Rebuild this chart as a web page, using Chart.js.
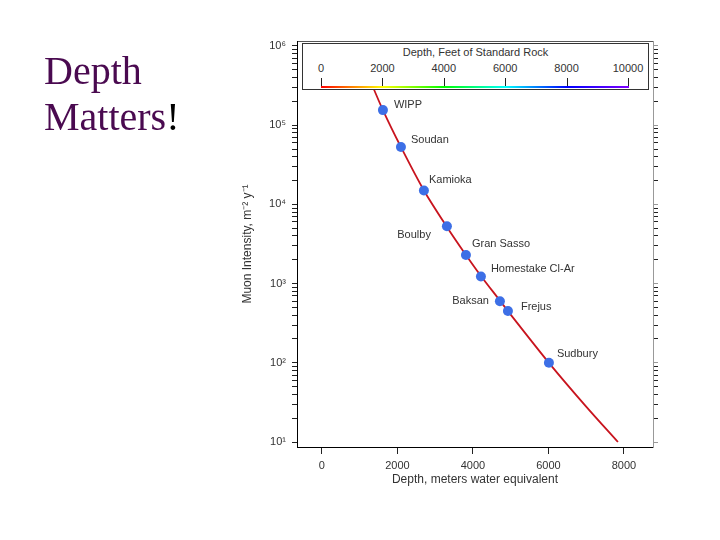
<!DOCTYPE html>
<html>
<head>
<meta charset="utf-8">
<script src="https://cdn.jsdelivr.net/npm/chart.js@4.4.0/dist/chart.umd.min.js"></script>
<style>
body { margin: 0; background: #fff; }
#wrap { position: relative; width: 720px; height: 540px; }
#headline { position: absolute; left: 44px; top: 48px; font: 40px/46px "Liberation Serif", "Times New Roman", serif; color: #4a0a50; }
#headline span { color: #000; }
#key { position: absolute; left: 302px; top: 43px; width: 345px; height: 45px; border: 1px solid #333;
       background: #fff; font: 11px/13px "Liberation Sans", Arial, sans-serif; color: #333; }
#key .ttl { position: absolute; left: 0; top: 2px; width: 100%; text-align: center; }
#key .lbl { position: absolute; top: 18px; transform: translateX(-50%); color: #333; }
#key .tk { position: absolute; top: 34px; width: 1px; height: 8px; background: #222; }
#key .bar { position: absolute; left: 18px; width: 308px; top: 42px; height: 2px;
            background: linear-gradient(to right, #f00 0%, #ff8000 10%, #ff0 20%, #0f0 40%, #0ff 60%, #00f 80%, #8000ff 100%); }
</style>
</head>
<body>
<div id="wrap">
  <canvas id="myChart" width="720" height="540"></canvas>
  <div id="headline">Depth<br>Matters<span>!</span></div>
  <div id="key"><div class="ttl">Depth, Feet of Standard Rock</div><div class="bar"></div></div>
</div>
<script>
// underground labs: depth (m w.e.) and muon intensity (m^-2 y^-1)
var stations = ['WIPP', 'Soudan', 'Kamioka', 'Boulby', 'Gran Sasso', 'Homestake Cl-Ar', 'Baksan', 'Frejus', 'Sudbury'];
var depthMwe = [1616, 2093, 2702, 3311, 3815, 4212, 4715, 4927, 6013];
var intensity = [1.55e5, 5.3e4, 1.5e4, 5.3e3, 2.3e3, 1.23e3, 600, 450, 100];

// red curve
var fitDepth = [1200, 1616, 2093, 2702, 3311, 3815, 4212, 4715, 4927, 6013, 7000, 7841];
var fitIntensity = [4.5e5, 1.55e5, 5.3e4, 1.5e4, 5.2e3, 2.3e3, 1.25e3, 610, 450, 100, 28, 10];

var depthTicks = [0, 2000, 4000, 6000, 8000];
var decades = [1, 2, 3, 4, 5, 6];
var feetTicks = [0, 2000, 4000, 6000, 8000, 10000];

// label placement next to each dot: dx, dy, align
var labelPos = {
    'WIPP': [11, -5, 'left'],
    'Soudan': [10, -7, 'left'],
    'Kamioka': [5, -10, 'left'],
    'Boulby': [-16, 9, 'right'],
    'Gran Sasso': [6, -11, 'left'],
    'Homestake Cl-Ar': [10, -8, 'left'],
    'Baksan': [-11, 0, 'right'],
    'Frejus': [13, -4, 'left'],
    'Sudbury': [8, -9, 'left']
};

// colour key ticks
var key = document.getElementById('key');
feetTicks.forEach(function (f, i) {
    var x = 18 + i * (307 / (feetTicks.length - 1));
    var l = document.createElement('div');
    l.className = 'lbl'; l.style.left = x + 'px'; l.textContent = f;
    key.appendChild(l);
    var t = document.createElement('div');
    t.className = 'tk'; t.style.left = Math.round(x) + 'px';
    key.appendChild(t);
});

var yTicks = [];
decades.forEach(function (d) {
    var n = d === 6 ? 1 : 9;
    for (var m = 1; m <= n; m++) yTicks.push(m * Math.pow(10, d));
});

var sup = { '1': '¹', '2': '²', '3': '³', '4': '⁴', '5': '⁵', '6': '⁶' };
function isDecade(v) { var e = Math.log10(v); return Math.abs(e - Math.round(e)) < 1e-9; }

Chart.defaults.font.family = '"Liberation Sans", Arial, sans-serif';
Chart.defaults.color = '#333';

var labelPlugin = {
    id: 'stationLabels',
    afterDatasetsDraw: function (chart) {
        var c = chart.ctx, xs = chart.scales.x, ys = chart.scales.y;
        c.save();
        c.font = '11px "Liberation Sans", Arial, sans-serif';
        c.fillStyle = '#333';
        c.textBaseline = 'middle';
        stations.forEach(function (s, i) {
            var p = labelPos[s];
            c.textAlign = p[2];
            c.fillText(s, xs.getPixelForValue(depthMwe[i]) + p[0], ys.getPixelForValue(intensity[i]) + p[1]);
        });
        c.restore();
    }
};

var yMin = 8.65, yMax = 1.156e6;

function logAxis(pos) {
    return {
        type: 'logarithmic',
        position: pos,
        min: yMin,
        max: yMax,
        afterBuildTicks: function (s) {
            s.ticks = yTicks.map(function (v) { return { value: v, major: isDecade(v) }; });
        },
        afterFit: function (s) { s.width = 67; },
        ticks: {
            display: pos === 'left',
            autoSkip: false,
            padding: 6,
            font: { size: 11 },
            color: '#333',
            callback: function (v) {
                return isDecade(v) ? '10' + sup[String(Math.round(Math.log10(v)))] : '';
            }
        },
        grid: {
            drawOnChartArea: false,
            tickLength: 5,
            tickColor: function (ctx) {
                if (pos === 'right') return ctx.tick && ctx.tick.major ? '#999' : '#222';
                return '#222';
            }
        },
        border: { color: pos === 'left' ? '#000' : '#999', width: 1 },
        title: {
            display: pos === 'left',
            text: 'Muon Intensity, m⁻² y⁻¹',
            font: { size: 12 },
            color: '#333',
            padding: { top: 10, bottom: 4 }
        }
    };
}

var ctx = document.getElementById('myChart').getContext('2d');

var muonChart = new Chart(ctx, {
    type: 'scatter',
    data: {
        datasets: [{
            label: 'Labs',
            data: depthMwe.map(function (d, i) { return { x: d, y: intensity[i] }; }),
            backgroundColor: '#3d6fe6',
            borderWidth: 0,
            pointRadius: 5,
            showLine: false
        }, {
            label: 'Fit',
            data: fitDepth.map(function (d, i) { return { x: d, y: fitIntensity[i] }; }),
            borderColor: '#c8141e',
            borderWidth: 1.8,
            pointRadius: 0,
            showLine: true,
            tension: 0.3
        }]
    },
    options: {
        responsive: false,
        animation: false,
        layout: { padding: { left: 230, right: 0, top: 41, bottom: 49 } },
        plugins: { legend: { display: false }, tooltip: { enabled: false } },
        scales: {
            x: {
                type: 'linear',
                position: 'bottom',
                min: -660,
                max: 8770,
                afterBuildTicks: function (s) {
                    s.ticks = depthTicks.map(function (v) { return { value: v }; });
                },
                afterFit: function (s) { s.height = 44; },
                ticks: {
                    font: { size: 11 }, color: '#333', padding: 5,
                    callback: function (v) { return String(v); }
                },
                grid: { drawOnChartArea: false, tickLength: 7, tickColor: '#222' },
                border: { color: '#000', width: 1 },
                title: {
                    display: true,
                    text: 'Depth, meters water equivalent',
                    font: { size: 12 },
                    color: '#333',
                    padding: { top: 4, bottom: 4 }
                }
            },
            x2: {
                type: 'linear',
                position: 'top',
                min: -660,
                max: 8770,
                afterFit: function (s) { s.height = 0; },
                ticks: { display: false },
                grid: { display: false },
                border: { color: '#555', width: 1 }
            },
            y: logAxis('left'),
            y2: logAxis('right')
        }
    },
    plugins: [labelPlugin]
});
</script>
</body>
</html>
